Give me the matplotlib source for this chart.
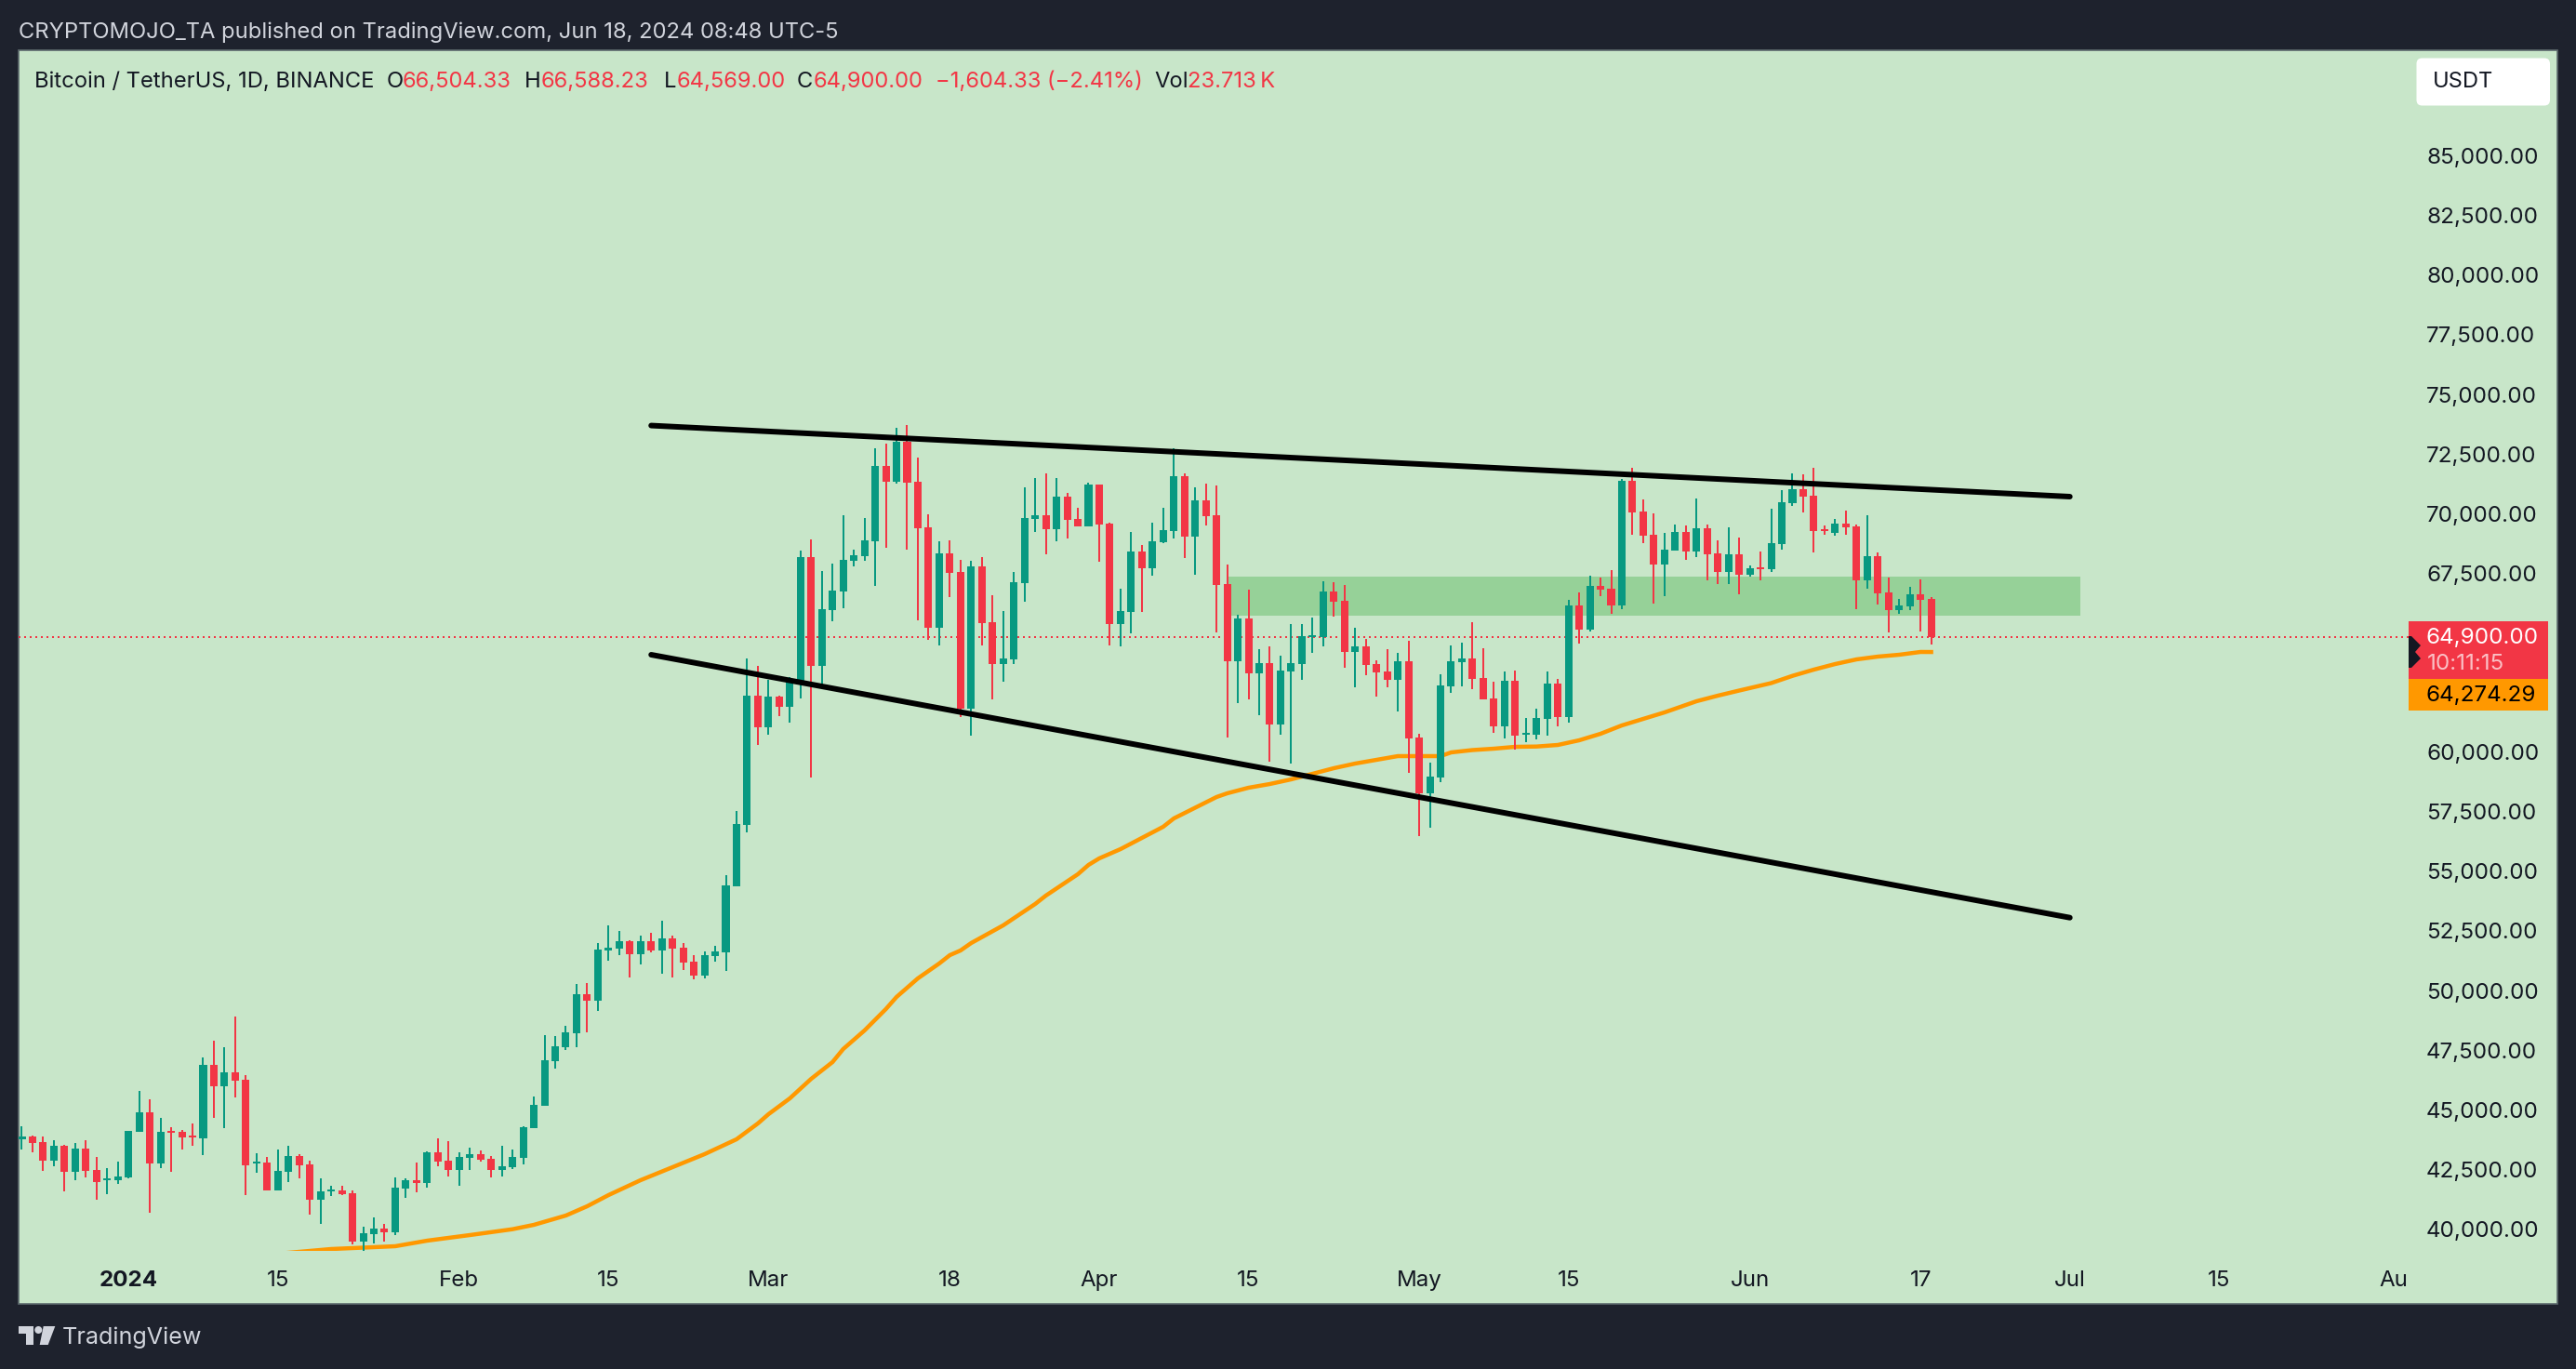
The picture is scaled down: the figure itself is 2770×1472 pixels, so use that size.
import matplotlib
matplotlib.use("Agg")
import matplotlib.pyplot as plt
from matplotlib.patches import Rectangle, Polygon, Circle, FancyBboxPatch
from matplotlib.transforms import Bbox, TransformedBbox, IdentityTransform, Affine2D

plt.rcParams['font.family'] = ['Inter', 'DejaVu Sans']

# ---- daily candles, 22 Dec 2023 (index 0) to 18 Jun 2024 (index 179)
opens = [43840,43957,43723,42943,43567,42475,43450,42553,42124,42124,42241,44152,44971,42826,44191,44152,43996,43879,46960,46063,
46648,46336,42826,42865,41695,42475,43138,42787,41305,41656,41695,41578,39550,39862,40096,39940,41773,42124,42007,43294,
42943,42553,43060,43216,43021,42553,42670,43060,44308,45244,47116,47701,48286,49924,49651,51757,51835,52147,51601,52147,
51757,52264,51874,51289,50704,51523,51679,54460,57022,62443,61117,62404,61975,63067,68254,63691,66031,66811,68098,68293,
68917,72076,71413,73090,71413,69502,65290,68410,67630,61897,67864,65524,63769,63964,67162,69853,70009,69424,70789,69853,
69541,71296,69658,65446,65953,68488,67786,68878,69346,71647,69112,70633,70009,67123,63886,65680,63379,63808,61234,63457,
63769,64900,64900,66811,66421,64276,64510,63769,63457,63106,63886,60688,58348,59011,62833,63847,64003,63184,62326,61156,
63067,60805,60805,61468,62950,61546,66226,65212,67045,66928,66226,71452,70165,69190,67942,68527,69307,68488,69463,68410,
67630,68371,67513,67825,67747,68800,70516,71101,70828,69424,69268,69658,69541,67279,68293,66772,66031,66187,66694,66504]
highs = [44386,43996,43957,43801,43606,43684,43801,43099,42631,42904,44191,45868,45517,44737,44347,44230,44503,47272,47974,47701,
48988,46531,43255,43099,43411,43567,43216,42943,42202,41890,41890,41695,40174,40564,40291,42241,42202,42865,43333,43879,
43762,43294,43489,43372,43138,43567,43411,44386,45634,48208,48169,48598,50353,50392,52069,52810,52576,52186,52381,52498,
53005,52381,52069,51562,51718,51952,54916,57607,64003,63691,63106,62443,63210,68527,68995,67669,67981,70009,68566,69892,
72817,73012,73675,73792,72427,70048,68917,68956,68137,68098,68254,66655,65992,67630,71179,71569,71764,71569,70945,70321,
71374,71296,69697,66928,69307,68761,69697,70321,72817,71764,71179,71335,71257,67942,65836,66889,64393,64510,64120,65446,
65446,65719,67240,67201,67084,65290,64822,63925,64393,64237,64744,60844,59635,63340,64549,64666,65524,64432,63028,63457,
63496,61507,61897,63457,63145,66460,66772,67474,67396,67708,71530,71998,70672,70087,69268,69619,69580,70711,69619,68956,
69502,69073,67903,68488,70282,71062,71764,71725,71998,69580,69853,70204,69619,70009,68449,67396,66499,67006,67318,66588]
lows = [43411,43294,42514,42709,41656,42124,42241,41305,41539,41968,42202,44152,40759,42631,42475,43411,43567,43177,44737,44308,
45595,41500,42436,41695,41695,42046,42202,40681,40291,41461,41500,39433,38500,39472,39550,39823,41383,41617,41812,42709,
42280,41890,42553,42904,42241,42280,42592,42787,44308,45244,46804,47584,47701,48325,49222,51328,51562,50626,51172,51679,
50782,50626,50938,50548,50587,51289,50899,54460,56710,60376,60805,61585,61312,62326,59011,62794,65563,66109,67864,68098,
67045,68644,71335,68566,65602,64783,64549,66577,61546,60766,64549,62287,63028,63769,66382,69307,68371,68917,69034,69541,
69541,68059,64549,64510,65056,65953,67474,68839,69034,68215,67513,69580,65095,60688,62131,62287,61624,59674,60805,59596,
63106,64237,64510,65758,63613,62794,63301,62404,62794,61780,59206,56554,56905,58816,62560,62833,62716,62287,60883,60649,
60181,60493,60610,60766,61156,61312,64627,65134,66616,65875,66070,69190,68839,66304,66616,68527,68137,68254,67279,67123,
67123,66694,67435,67279,67630,68566,70399,70126,68449,69190,69151,69190,66070,66928,66265,65095,65875,66031,65134,64569]
closes = [43957,43684,42943,43567,42475,43450,42514,42046,42202,42280,44191,44971,42826,44152,44113,43918,43918,46960,46063,46648,
46297,42748,42904,41695,42514,43138,42748,41305,41656,41734,41539,39550,39901,40096,39940,41812,42124,42007,43294,42904,
42553,43099,43216,42982,42553,42709,43099,44347,45283,47155,47740,48325,49924,49651,51796,51874,52147,51601,52147,51757,
52264,51835,51250,50704,51562,51718,54487,57061,62443,61117,62404,61975,63106,68254,63691,66070,66850,68137,68332,68956,
72076,71413,73090,71374,69463,65290,68410,67591,61897,67864,65485,63769,64003,67201,69892,70009,69424,70789,69814,69541,
71296,69619,65446,65992,68488,67786,68917,69385,71647,69112,70633,69970,67084,63886,65680,63379,63808,61234,63496,63808,
64939,64978,66811,66382,64276,64510,63730,63418,63106,63886,60649,58348,59050,62872,63886,64003,63145,62287,61156,63067,
60766,60883,61507,62950,61546,66226,65212,67045,66889,66226,71452,70126,69151,67942,68566,69307,68488,69463,68371,67630,
68371,67513,67786,67747,68839,70555,71101,70789,69346,69346,69658,69502,67279,68293,66733,66031,66226,66694,66460,64900]

# ---- moving average read at these candle indices
ma_index = [25,29,33,35,38,42,46,48,51,53,55,58,61,64,67,69,70,72,74,76,77,79,81,82,84,86,87,88,89,92,95,96,99,100,101,103,104,
107,108,112,113,115,117,119,121,123,125,129,133,134,136,138,140,142,144,146,148,150,152,154,157,159,161,164,166,168,170,172,174,176,178,179]
ma_values = [39082,39238,39316,39355,39589,39823,40069,40252,40642,41032,41500,42124,42670,43216,43840,44503,44893,45556,46375,47077,47623,48403,49300,49807,50587,51211,51562,51757,52069,
52810,53707,54058,54955,55345,55618,56008,56242,56944,57295,58192,58348,58582,58738,58933,59167,59401,59596,59908,59908,60064,60162,60220,60298,60310,60376,60571,60844,61195,61468,61741,
62209,62443,62657,62970,63274,63535,63769,63964,64081,64159,64276,64274]

# ---- drawings
upper_trend_index = [59, 192]
upper_trend_price = [73770, 70789]
lower_trend_index = [59, 192]
lower_trend_price = [64159, 53134]
zone_index = [113, 193]
zone_price = [65797, 67435]
last_close = 64900
last_ma = 64274.29

# ---- axes labels
price_ticks = [40000 + 2500 * k for k in range(19)]
time_tick_index = [10, 24, 41, 55, 70, 87, 101, 115, 131, 145, 162, 178, 192, 206, 223]
time_tick_labels = ['2024', '15', 'Feb', '15', 'Mar', '18', 'Apr', '15', 'May', '15', 'Jun', '17', 'Jul', '15', 'Aug']

W, H = 2770, 1472
UP, DOWN, MA, DARK = '#089981', '#f23645', '#ff9800', '#1e222d'
BG, ZONE, INK = '#c8e6c9', '#96d198', '#131722'
FS = 17.1
FS_SCALE = 17.4

fig = plt.figure(figsize=(W / 100, H / 100), dpi=100, facecolor=DARK)

def mk_ui(z):
    a = fig.add_axes([0, 0, 1, 1], zorder=z)
    a.set_xlim(0, W)
    a.set_ylim(H, 0)
    a.axis('off')
    a.patch.set_alpha(0)
    return a

back = mk_ui(0)
back.add_patch(Rectangle((20, 54), 2730, 1347.5, fc=BG, ec='#5d6a6d', lw=1.2))

# main price pane, mapped so candles sit on the reference's scale
ax = fig.add_axes([20 / W, 1 - 1345 / H, 2570 / W, 1291 / H], zorder=1)
ax.patch.set_alpha(0)
for s in ax.spines.values():
    s.set_visible(False)
ax.set_xlim(-0.305, 223.76)
ax.set_ylim(39160, 89509)

ax.add_patch(Rectangle((zone_index[0], zone_price[0]), zone_index[1] - zone_index[0],
                       zone_price[1] - zone_price[0], fc=ZONE, ec='none', zorder=1))
ax.axhline(last_close, color=DOWN, lw=1.44, ls=(0, (1, 2)), dash_capstyle='butt', zorder=1.5)
ax.plot(ma_index, ma_values, color=MA, lw=3.2, zorder=2, solid_joinstyle='round')

idx = list(range(len(opens)))
colors = [UP if c >= o else DOWN for o, c in zip(opens, closes)]
ax.vlines(idx, lows, highs, colors=colors, lw=1.44, zorder=3)
ax.bar(idx, [abs(c - o) for o, c in zip(opens, closes)], bottom=[min(o, c) for o, c in zip(opens, closes)],
       width=0.7, color=colors, linewidth=0, zorder=3.1)

for xs, ys in ((upper_trend_index, upper_trend_price), (lower_trend_index, lower_trend_price)):
    ax.plot(xs, ys, color='black', lw=4.3, solid_capstyle='round', zorder=4)

ax.yaxis.tick_right()
ax.set_yticks(price_ticks)
ax.set_yticklabels([f'{p:,.2f}' for p in price_ticks], fontsize=FS_SCALE, color=INK)
ax.tick_params(axis='y', length=0, pad=13.7)
for lab in ax.get_yticklabels():
    lab.set_transform(lab.get_transform() + Affine2D().translate(0, 2))
ax.set_xticks(time_tick_index)
ax.set_xticklabels(time_tick_labels, fontsize=FS_SCALE, color=INK)
ax.tick_params(axis='x', length=0, pad=15)
ax.get_xticklabels()[0].set_fontweight('bold')
clip = TransformedBbox(Bbox([[0, 0], [2590, H]]), IdentityTransform())
lab = ax.get_xticklabels()[-1]
lab.set_clip_on(True)
lab.set_clip_box(clip)

ui = mk_ui(3)
def t(x, y, s, color=INK, ha='left', size=FS, **kw):
    ui.text(x, y, s, color=color, ha=ha, va='center', fontsize=size, **kw)

t(20, 34.5, 'CRYPTOMOJO_TA published on TradingView.com, Jun 18, 2024 08:48 UTC-5', color='#d1d4dc')
t(37, 87.5, 'Bitcoin / TetherUS, 1D, BINANCE')
for x, s in ((416, 'O'), (564, 'H'), (714, 'L'), (857, 'C'), (1241, 'Vol')):
    t(x, 87.5, s)
for x, s in ((433, '66,504.33'), (582, '66,588.23'), (728, '64,569.00'), (875, '64,900.00'),
             (1006, '\u22121,604.33 (\u22122.41%)'), (1277, '23.713\u2009K')):
    t(x, 87.5, s, color=DOWN)

ui.add_patch(FancyBboxPatch((2598.5, 62.5), 143.5, 51, boxstyle='round,pad=0,rounding_size=6', fc='white', ec='none'))
t(2616, 88.5, 'USDT')

ui.add_patch(Rectangle((2590, 668), 150, 62, fc=DOWN, ec='none'))
ui.add_patch(Rectangle((2590, 730), 150, 34, fc=MA, ec='none'))
ui.add_patch(Polygon([(2590, 684), (2593, 684), (2603, 694), (2597, 701), (2603, 708), (2593, 718), (2590, 718)], fc=INK, ec='none'))
t(2609, 686, f'{last_close:,.2f}', color='white', size=FS_SCALE)
t(2610, 714.5, '10:11:15', color='#fbc0c5', size=FS_SCALE)
t(2609, 748.5, f'{last_ma:,.2f}', color='black', size=FS_SCALE)

# logo
logo = '#d1d4dc'
ui.add_patch(Polygon([(20, 1426), (36, 1426), (36, 1446), (28, 1446), (28, 1434), (20, 1434)], fc=logo, ec='none'))
ui.add_patch(Circle((41.3, 1430), 4, fc=logo, ec='none'))
ui.add_patch(Polygon([(46.7, 1426), (59.3, 1426), (51.7, 1446), (42.7, 1446)], fc=logo, ec='none'))
t(67, 1438, 'TradingView', color=logo, size=18.1)

fig.savefig('out.png', dpi=100, facecolor=DARK)
